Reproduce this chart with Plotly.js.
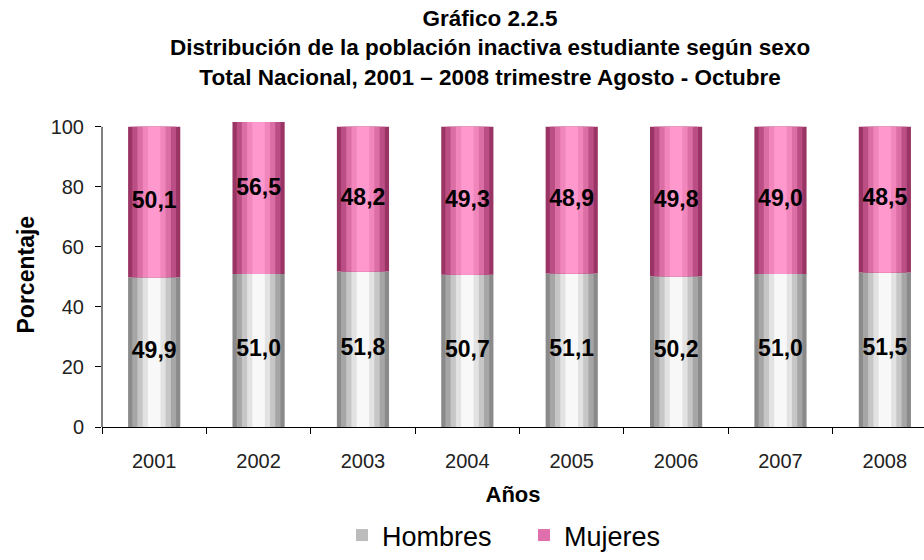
<!DOCTYPE html>
<html>
<head>
<meta charset="utf-8">
<script src="https://cdn.plot.ly/plotly-3.0.1.min.js"></script>
<style>html,body{margin:0;padding:0;background:#fff;}#chart{width:924px;height:560px;}</style>
</head>
<body>
<div id="chart"></div>
<script>
const years = ['2001','2002','2003','2004','2005','2006','2007','2008'];
const hombres = [49.9, 51.0, 51.8, 50.7, 51.1, 50.2, 51.0, 51.5];
const mujeres = [50.1, 56.5, 48.2, 49.3, 48.9, 49.8, 49.0, 48.5];
const titleLines = ['Gráfico 2.2.5', 'Distribución de la población inactiva estudiante según sexo', 'Total Nacional, 2001 – 2008 trimestre Agosto - Octubre'];
const fmt = v => v.toFixed(1).replace('.', ',');

const grayShades = ['#8a8a8a', '#a6a6a6', '#c6c6c6', '#e2e2e2', '#f8f8f8'];
const pinkShades = ['#9a3464', '#bb4e84', '#db6ea4', '#f086bb', '#ff98cc'];
const widths = [0.5, 0.42, 0.32, 0.22, 0.12];

const traces = [];
function addSeries(name, vals, base, shades, legendColor) {
  shades.forEach((c, i) => {
    traces.push({
      type: 'bar', x: years, y: vals, base: base,
      width: widths[i], marker: {color: c, line: {width: 0}},
      name: name, legendgroup: name, showlegend: false,
      hoverinfo: 'skip'
    });
  });
  traces.push({
    type: 'bar', x: [null], y: [null], name: name, legendgroup: name,
    marker: {color: legendColor}, showlegend: true
  });
}
const zeros = hombres.map(() => 0);
addSeries('Hombres', hombres, zeros, grayShades, '#bcbcbc');
addSeries('Mujeres', mujeres, hombres, pinkShades, '#e070ad');

const labelFont = {family: 'Liberation Sans, Arial', size: 23, color: '#000', weight: 'bold'};
traces.push({
  type: 'scatter', mode: 'text', x: years, y: hombres.map(v => v / 2),
  text: hombres.map(fmt), textfont: labelFont,
  showlegend: false, hoverinfo: 'skip', cliponaxis: false
});
traces.push({
  type: 'scatter', mode: 'text', x: years, y: mujeres.map((v, i) => hombres[i] + v / 2),
  text: mujeres.map(fmt), textfont: labelFont,
  showlegend: false, hoverinfo: 'skip', cliponaxis: false
});

const layout = {
  width: 924, height: 560,
  margin: {l: 102, r: 0, t: 122, b: 133},
  paper_bgcolor: '#fff', plot_bgcolor: '#fff',
  font: {family: 'Liberation Sans, Arial, sans-serif', color: '#000'},
  barmode: 'overlay',
  annotations: [{
    text: '<b>' + titleLines.join('<br>') + '</b>',
    xref: 'paper', yref: 'paper', x: 0.472, y: 1.387, xanchor: 'center', yanchor: 'top',
    showarrow: false, font: {size: 22.5, color: '#000'}, align: 'center'
  }, {
    text: '<b>Porcentaje</b>', textangle: -90,
    xref: 'paper', yref: 'paper', x: (25 - 102) / 822, y: 0.5, xanchor: 'center', yanchor: 'middle',
    showarrow: false, font: {size: 23, color: '#000'}
  }],
  xaxis: {
    type: 'category', range: [-0.5, 7.375],
    showline: true, linecolor: '#000', linewidth: 1,
    ticks: 'outside', tickson: 'boundaries', ticklen: 6, tickcolor: '#000',
    tickfont: {size: 20, color: '#222'}, showgrid: false, zeroline: false,
    ticklabelstandoff: 16,
    title: {text: '<b>Años</b>', font: {size: 22}, standoff: 15}
  },
  yaxis: {
    range: [0, 101.6], tickvals: [0, 20, 40, 60, 80, 100],
    showline: false, ticks: 'outside', ticklen: 6, tickcolor: '#000',
    tickfont: {size: 20, color: '#222'}, showgrid: false, zeroline: false,
    ticklabelstandoff: 7
  },
  shapes: [{type: 'line', xref: 'paper', yref: 'y', x0: 0, x1: 0, y0: 0, y1: 100, line: {color: '#000', width: 1}}],
  legend: {
    orientation: 'h', x: 342 / 924, xref: 'container', xanchor: 'left', y: 0.0, yref: 'container', yanchor: 'bottom',
    font: {size: 27, color: '#000'}, itemwidth: 30, traceorder: 'normal',
    entrywidth: 137, entrywidthmode: 'pixels'
  },
  showlegend: true
};

Plotly.newPlot('chart', traces, layout, {staticPlot: true, displayModeBar: false});
</script>
</body>
</html>
